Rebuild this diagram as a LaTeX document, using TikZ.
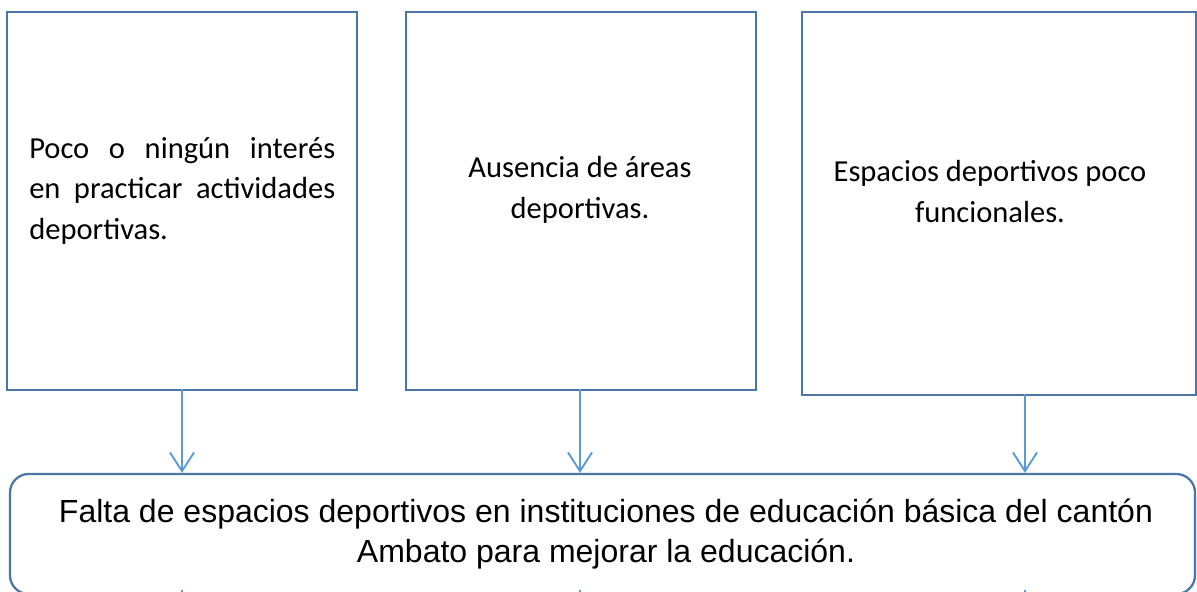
\documentclass[tikz,border=0pt]{standalone}
\usepackage{fontspec}
\setmainfont{Carlito}
\newfontfamily\arialf{Liberation Sans}
\usetikzlibrary{arrows.meta,fit,calc}
\definecolor{boxc}{HTML}{4A76A8}
\definecolor{arrc}{HTML}{5B9BD5}
\begin{document}
\begin{tikzpicture}[x=0.75pt,y=-0.75pt,
  causebox/.style={draw=boxc, line width=1.7pt, rectangle, inner sep=0pt},
  goalbox/.style={draw=boxc, line width=1.7pt, rectangle, rounded corners=14pt, inner sep=0pt},
  causetext/.style={font=\fontsize{22.9}{30.4}\selectfont, inner sep=0pt},
  goaltext/.style={font=\arialf\fontsize{24}{30}\selectfont, inner sep=0pt, align=center},
  arr/.style={draw=arrc, line width=1.4pt, -{Straight Barb[length=14pt,width=18pt,line width=1.4pt]}}]
\useasboundingbox (0,0) rectangle (1197,592);
\clip (0,0) rectangle (1197,592);
\fill[white] (0,0) rectangle (1197,592);

\node (b1) [causebox, fit={(7,12) (357,390)}] {};
\node (b2) [causebox, fit={(406,12) (756,390)}] {};
\node (b3) [causebox, fit={(802,12) (1196,395)}] {};
\node (goal) [goalbox, fit={(10,474) (1195,594)}] {};

\node (t1) [causetext, anchor=base west, text width=229.5pt, align=left] at (29,158)
  {Poco\hfill o\hfill ningún\hfill interés\\en\hfill practicar\hfill actividades\\deportivas.};
\node (t2) [causetext, anchor=base, align=center] at (580,218)
  {Ausencia de áreas\\deportivas.};
\node (t3) [causetext, anchor=base, align=center] at (990,222)
  {Espacios deportivos poco\\funcionales.};
\node (tg) [goaltext, anchor=base] at (606,562)
  {Falta de espacios deportivos en instituciones de educación básica del cantón\\Ambato para mejorar la educación.};

\draw[arr] ($(b1.south)+(0,-2)$) -- (b1.south |- goal.north);
\draw[arr] ($(b2.south)+(-1,-2)$) -- ($(b2.south |- goal.north)+(-1,0)$);
\draw[arr] ($(b3.south)+(26,-2)$) -- ($(b3.south |- goal.north)+(26,0)$);

\coordinate (d1) at (182,690);
\coordinate (d2) at (580,690);
\coordinate (d3) at (1025,690);
\draw[arr] ($(goal.south)+(-420.5,-5)$) -- (d1);
\draw[arr] ($(goal.south)+(-22.5,-5)$) -- (d2);
\draw[arr] ($(goal.south)+(422.5,-5)$) -- (d3);
\end{tikzpicture}
\end{document}
